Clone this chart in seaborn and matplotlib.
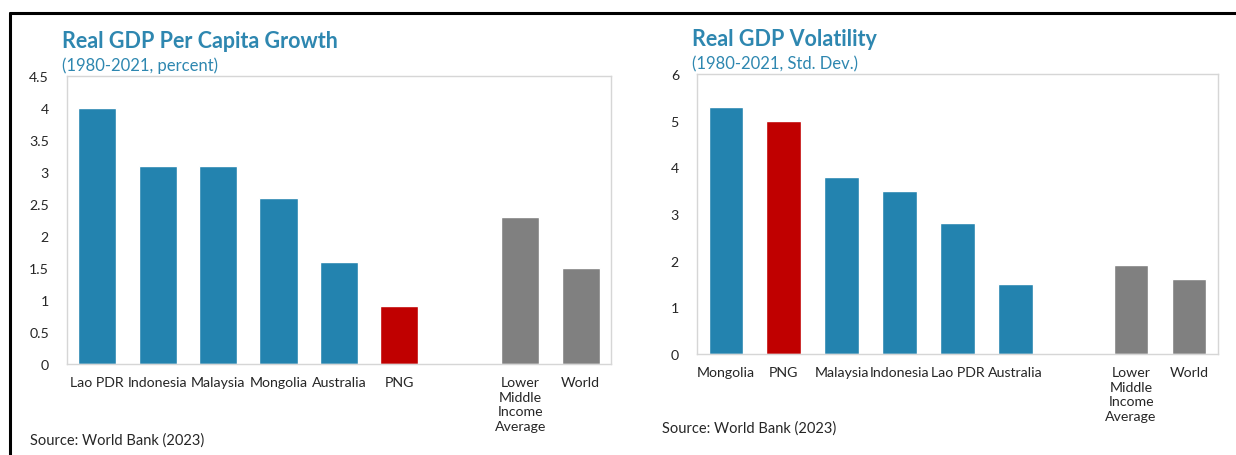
import matplotlib
matplotlib.use("Agg")
import matplotlib.pyplot as plt
from matplotlib.lines import Line2D
import seaborn as sns
import pandas as pd

# Real GDP per capita growth, 1980-2021 average (percent)
growth_categories = ["Lao PDR", "Indonesia", "Malaysia", "Mongolia", "Australia", "PNG",
                     " ", "Lower\nMiddle\nIncome\nAverage", "World"]
growth_values = [4.0, 3.1, 3.1, 2.6, 1.6, 0.9, None, 2.3, 1.5]

# Real GDP volatility, 1980-2021 (standard deviation)
vol_categories = ["Mongolia", "PNG", "Malaysia", "Indonesia", "Lao PDR", "Australia",
                  " ", "Lower\nMiddle\nIncome\nAverage", "World"]
vol_values = [5.3, 5.0, 3.8, 3.5, 2.8, 1.5, None, 1.9, 1.6]

growth_ticks = [0, 0.5, 1, 1.5, 2, 2.5, 3, 3.5, 4, 4.5]
growth_ticklabels = ["0", "0.5", "1", "1.5", "2", "2.5", "3", "3.5", "4", "4.5"]
vol_ticks = [0, 1, 2, 3, 4, 5, 6]

BLUE = "#2383AF"
RED = "#C00000"
GREY = "#808080"
TITLE_C = "#2E87B0"
TEXT_C = "#262626"
FRAME_C = "#D6D6D6"


def bar_color(cat):
    if cat == "PNG":
        return RED
    if cat in ("World", "Lower\nMiddle\nIncome\nAverage"):
        return GREY
    return BLUE


sns.set_theme(style="white")
plt.rcParams["font.family"] = ["Lato", "DejaVu Sans"]

fig = plt.figure(figsize=(12.36, 4.56), dpi=100)
ax1 = fig.add_axes([0.0542, 0.1996, 0.4401, 0.6315])
ax2 = fig.add_axes([0.5639, 0.2215, 0.4215, 0.6140])


def draw_panel(ax, cats, vals, width):
    df = pd.DataFrame({"cat": cats, "val": vals}).dropna()
    palette = {c: bar_color(c) for c in df["cat"]}
    sns.barplot(data=df, x="cat", y="val", hue="cat", order=cats, palette=palette,
                legend=False, width=width, saturation=1, ax=ax)
    ax.set_xlim(-0.5, len(cats) - 0.5)
    ax.set_xlabel("")
    ax.set_ylabel("")
    for s in ax.spines.values():
        s.set_color(FRAME_C)
        s.set_linewidth(1.0)
    ax.tick_params(axis="both", length=0, colors=TEXT_C, labelsize=10.2)
    ax.tick_params(axis="x", pad=9)
    ax.tick_params(axis="y", pad=13)
    for lbl in ax.get_xticklabels():
        lbl.set_linespacing(1.25)
        lbl.set_verticalalignment("top")


draw_panel(ax1, growth_categories, growth_values, 0.63)
ax1.set_ylim(0, 4.5)
ax1.set_yticks(growth_ticks)
ax1.set_yticklabels(growth_ticklabels)

draw_panel(ax2, vol_categories, vol_values, 0.6)
ax2.set_ylim(0, 6)
ax2.set_yticks(vol_ticks)

# Titles and subtitles
fig.text(62 / 1236, 1 - 42 / 456, "Real GDP Per Capita Growth", fontsize=15.5,
         fontweight="bold", color=TITLE_C, va="center", ha="left")
fig.text(62 / 1236, 1 - 66 / 456, "(1980-2021, percent)", fontsize=12,
         color=TITLE_C, va="center", ha="left")
fig.text(692 / 1236, 1 - 40 / 456, "Real GDP Volatility", fontsize=15.5,
         fontweight="bold", color=TITLE_C, va="center", ha="left")
fig.text(692 / 1236, 1 - 64 / 456, "(1980-2021, Std. Dev.)", fontsize=12,
         color=TITLE_C, va="center", ha="left")

# Sources
fig.text(30 / 1236, 1 - 441 / 456, "Source: World Bank (2023)", fontsize=10.5,
         color=TEXT_C, va="center", ha="left")
fig.text(662 / 1236, 1 - 429 / 456, "Source: World Bank (2023)", fontsize=10.5,
         color=TEXT_C, va="center", ha="left")

# Outer border (top and left edges)
fig.add_artist(Line2D([10 / 1236, 1.0], [1 - 14 / 456, 1 - 14 / 456],
                      color="black", linewidth=2.2, transform=fig.transFigure))
fig.add_artist(Line2D([10 / 1236, 10 / 1236], [0, 1 - 14 / 456],
                      color="black", linewidth=2.2, transform=fig.transFigure))

fig.savefig("out.png", dpi=100, facecolor="white")
